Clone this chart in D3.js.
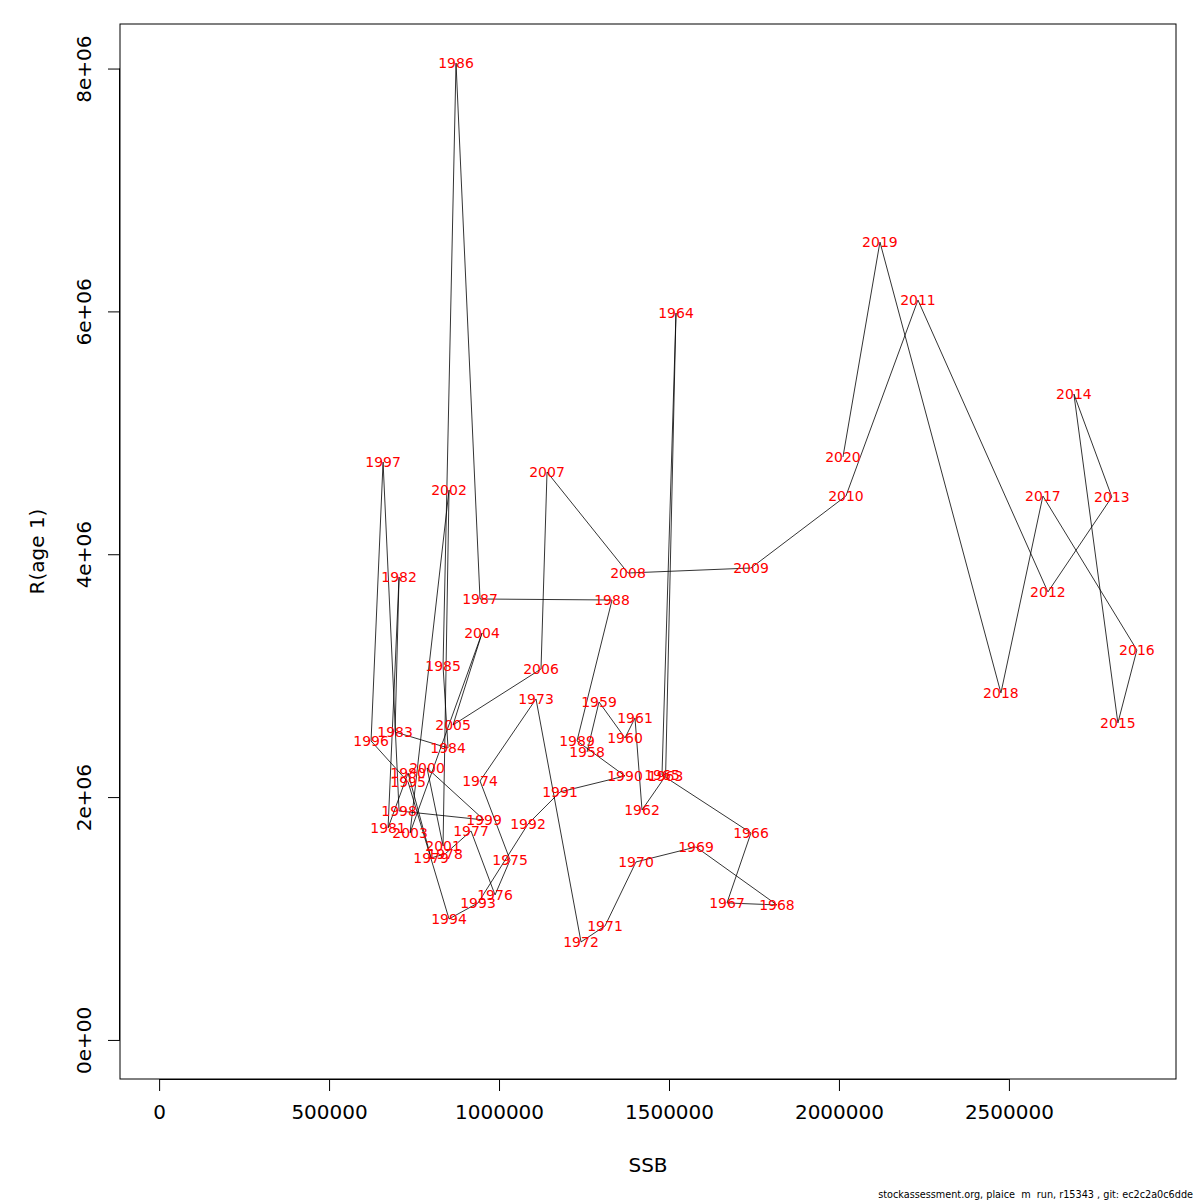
<!DOCTYPE html>
<html>
<head>
<meta charset="utf-8">
<script src="https://cdn.jsdelivr.net/npm/d3@7"></script>
<style>
  body { margin: 0; background: #fff; }
  text { font-family: "DejaVu Sans", sans-serif; }
</style>
</head>
<body>
<svg id="chart" width="1200" height="1200"></svg>
<script>
"use strict";

// stock-recruitment pairs, one per year
const years = [
  1958, 1959, 1960, 1961, 1962, 1963, 1964, 1965, 1966, 1967,
  1968, 1969, 1970, 1971, 1972, 1973, 1974, 1975, 1976, 1977,
  1978, 1979, 1980, 1981, 1982, 1983, 1984, 1985, 1986, 1987,
  1988, 1989, 1990, 1991, 1992, 1993, 1994, 1995, 1996, 1997,
  1998, 1999, 2000, 2001, 2002, 2003, 2004, 2005, 2006, 2007,
  2008, 2009, 2010, 2011, 2012, 2013, 2014, 2015, 2016, 2017,
  2018, 2019, 2020
];
const ssb = [
  1258800, 1294100, 1370600, 1400000, 1420600, 1490000, 1520600, 1479400, 1741200, 1670600,
  1817600, 1579400, 1402900, 1311800, 1241200, 1108800, 944100, 1032400, 988200, 917600,
  841200, 800000, 732400, 673500, 705900, 694100, 850000, 835300, 873500, 944100,
  1332400, 1229400, 1370600, 1179400, 1085300, 938200, 852900, 732400, 623500, 658800,
  705900, 955900, 788200, 835300, 852900, 738200, 950000, 864700, 1123500, 1141200,
  1379400, 1741200, 2020600, 2232400, 2614700, 2802900, 2691200, 2820600, 2876500, 2600000,
  2476500, 2120600, 2011800
];
const recruits = [
  2371000, 2783400, 2486900, 2651600, 1894000, 2174000, 5986600, 2182200, 1704600, 1128200,
  1111700, 1589300, 1465800, 938800, 807000, 2808000, 2132800, 1482200, 1194000, 1721000,
  1531600, 1498700, 2198600, 1745700, 3812600, 2536300, 2404500, 3079700, 8045200, 3631400,
  3623200, 2462200, 2174000, 2042200, 1778700, 1128200, 996400, 2124500, 2462200, 4759600,
  1885700, 1811600, 2239800, 1597500, 4529000, 1704600, 3351500, 2593900, 3055000, 4677200,
  3845600, 3886700, 4479600, 6093600, 3689100, 4471400, 5319600, 2610400, 3211500, 4479600,
  2857400, 6571200, 4800800
];
const xTicks = [0, 500000, 1000000, 1500000, 2000000, 2500000];
const yTicks = [0, 2000000, 4000000, 6000000, 8000000];
const yTickLabels = ["0e+00", "2e+06", "4e+06", "6e+06", "8e+06"];
const footer = "stockassessment.org, plaice  m  run, r15343 , git: ec2c2a0c6dde";

const data = years.map((yr, i) => ({ year: yr, ssb: ssb[i], r: recruits[i] }));

const plotL = 120, plotR = 1176, plotT = 24, plotB = 1079;
const svg = d3.select("#chart");

// R style: limits 0..max, extended 4% each side
const xMax = d3.max(ssb), yMax = d3.max(recruits);
const x = d3.scaleLinear().domain([-0.04 * xMax, 1.04 * xMax]).range([plotL, plotR]);
const y = d3.scaleLinear().domain([-0.04 * yMax, 1.04 * yMax]).range([plotB, plotT]);

// trajectory
const line = d3.line().x(d => x(d.ssb)).y(d => y(d.r));
svg.append("path")
  .datum(data)
  .attr("d", line)
  .attr("fill", "none")
  .attr("stroke", "#000")
  .attr("stroke-width", 0.8);

// year labels
svg.append("g")
  .selectAll("text")
  .data(data)
  .join("text")
  .attr("x", d => x(d.ssb))
  .attr("y", d => y(d.r))
  .attr("dy", "0.36em")
  .attr("text-anchor", "middle")
  .attr("font-size", 14)
  .attr("fill", "#ff0000")
  .text(d => d.year);

// box
svg.append("rect")
  .attr("x", plotL).attr("y", plotT)
  .attr("width", plotR - plotL).attr("height", plotB - plotT)
  .attr("fill", "none")
  .attr("stroke", "#000")
  .attr("stroke-width", 1);

// x axis
const xAxis = d3.axisBottom(x).tickValues(xTicks).tickSize(12).tickPadding(14)
  .tickFormat(d3.format("d"));
const gx = svg.append("g").attr("transform", "translate(0," + plotB + ")").call(xAxis);
gx.select(".domain").attr("d", "M" + x(xTicks[0]) + ",0.5H" + x(xTicks[xTicks.length - 1]));
gx.selectAll("text").attr("font-size", 20).attr("fill", "#000")
  .attr("font-family", "DejaVu Sans, sans-serif");

// y axis
const yAxis = d3.axisLeft(y).tickValues(yTicks).tickSize(12)
  .tickFormat((d, i) => yTickLabels[i]);
const gy = svg.append("g").attr("transform", "translate(" + plotL + ",0)").call(yAxis);
gy.select(".domain").attr("d", "M-0.5," + y(yTicks[0]) + "V" + y(yTicks[yTicks.length - 1]));
gy.selectAll(".tick text")
  .attr("font-size", 20).attr("fill", "#000")
  .attr("font-family", "DejaVu Sans, sans-serif")
  .attr("x", null).attr("dy", null)
  .attr("text-anchor", "middle")
  .attr("transform", "translate(-29,0) rotate(-90)");

// axis titles
svg.append("text")
  .attr("x", (plotL + plotR) / 2).attr("y", 1172)
  .attr("text-anchor", "middle").attr("font-size", 20)
  .text("SSB");
svg.append("text")
  .attr("transform", "translate(44," + (plotT + plotB) / 2 + ") rotate(-90)")
  .attr("text-anchor", "middle").attr("font-size", 20)
  .text("R(age 1)");

svg.append("text")
  .attr("x", 1193).attr("y", 1198)
  .attr("text-anchor", "end").attr("font-size", 9.7)
  .attr("xml:space", "preserve")
  .style("white-space", "pre")
  .text(footer);
</script>
</body>
</html>
